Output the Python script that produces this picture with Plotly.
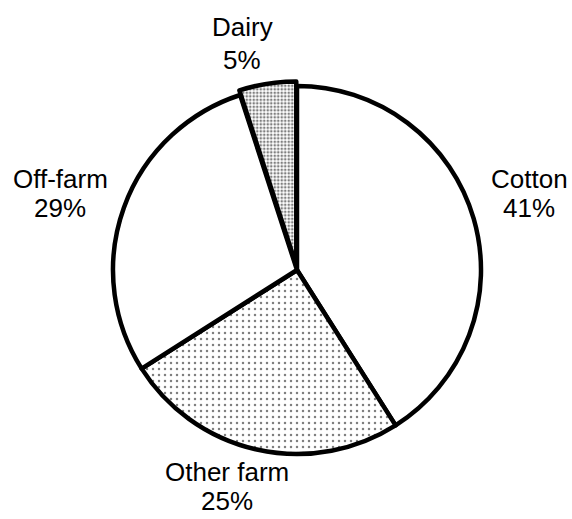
import plotly.graph_objects as go

# Income shares by source
categories = ["Cotton", "Other farm", "Off-farm", "Dairy"]
shares = [41, 25, 29, 5]

W, H = 572, 519
cx, cy, r = 297, 270, 184
pull = [0, 0, 0, 0.025]
maxpull = max(pull)
half = r * (1 + maxpull)

fig = go.Figure(
    go.Pie(
        labels=categories,
        values=shares,
        sort=False,
        direction="clockwise",
        rotation=0,
        pull=pull,
        textinfo="none",
        hoverinfo="label+percent",
        showlegend=False,
        domain=dict(
            x=[(cx - half) / W, (cx + half) / W],
            y=[1 - (cy + half) / H, 1 - (cy - half) / H],
        ),
        marker=dict(
            colors=["white", "white", "white", "white"],
            line=dict(color="black", width=4.5),
            pattern=dict(
                shape=["", ".", "", "."],
                size=[6, 6, 6, 3.5],
                solidity=[0.1, 0.14, 0.1, 0.45],
                fgcolor="black",
                bgcolor="white",
                fillmode="overlay",
            ),
        ),
    )
)

# Label positions (pixel centres of the name and percentage lines)
label_pos = {
    "Cotton": (529, 179, 208),
    "Other farm": (227, 472, 501),
    "Off-farm": (60, 178.5, 207.5),
    "Dairy": (242, 27, 60),
}

font = dict(family="Arial, Liberation Sans, sans-serif", size=26, color="black")
annotations = []
for name, val in zip(categories, shares):
    x, y1, y2 = label_pos[name]
    for txt, y in ((name, y1), (f"{val}%", y2)):
        annotations.append(
            dict(
                text=txt,
                x=x / W,
                y=1 - y / H,
                xref="paper",
                yref="paper",
                xanchor="center",
                yanchor="middle",
                showarrow=False,
                font=font,
            )
        )

fig.update_layout(
    width=W,
    height=H,
    margin=dict(l=0, r=0, t=0, b=0),
    paper_bgcolor="white",
    plot_bgcolor="white",
    annotations=annotations,
)

fig.write_html("out.html")
